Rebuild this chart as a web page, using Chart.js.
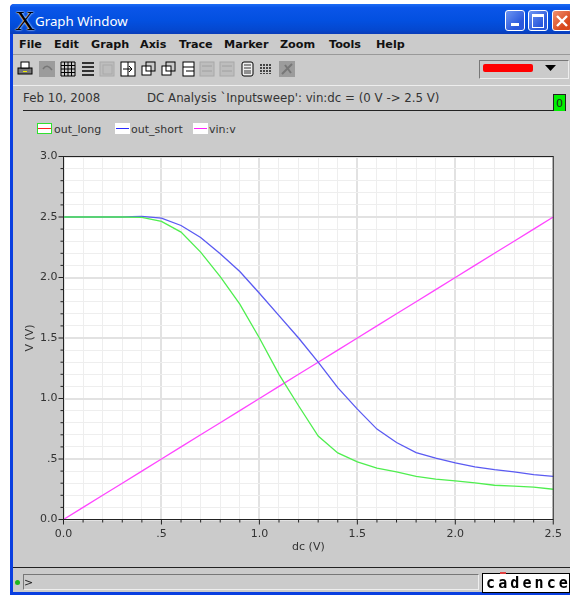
<!DOCTYPE html>
<html>
<head>
<meta charset="utf-8">
<title>Graph Window</title>
<script src="https://cdn.jsdelivr.net/npm/chart.js@4"></script>
<style>
  html, body { margin: 0; padding: 0; background: #fff; }
  body { width: 570px; height: 597px; overflow: hidden; position: relative; font-family: "DejaVu Sans", sans-serif; }
  .abs { position: absolute; white-space: nowrap; }
  #frame { left: 10px; top: 4px; width: 570px; height: 591px; background: #0a3fe0; border-radius: 4px 0 0 0; }
  #titlebar { left: 10px; top: 4px; width: 560px; height: 30px; background: linear-gradient(#1c6cf4 0%, #0a55e8 12%, #0350e0 55%, #0448d0 85%, #0a3cb8 100%); border-top-left-radius: 5px; }
  #panel { left: 13px; top: 34px; width: 557px; height: 558px; background: #cbcbcb; }
  #logoX { left: 15px; top: 5px; font: 28px "Liberation Serif", serif; color: #000; text-shadow: 0 0 2px #fff, 0 0 1px #fff; }
  #title { left: 35px; top: 12px; font: 13.3px "Noto Sans", sans-serif; color: #fff; }
  .winbtn { top: 10px; width: 18px; height: 19px; border: 1px solid #fff; border-radius: 3px; background: linear-gradient(135deg, #6f96f2, #2a58dc 70%); }
  .menu { top: 38px; font: bold 11.2px "DejaVu Sans", sans-serif; color: #111; }
  .info { font: 11.8px "DejaVu Sans", sans-serif; color: #333; }
  .legend { top: 123px; font: 11px "DejaVu Sans", sans-serif; color: #333; }
  .swatch { top: 123px; width: 15px; height: 11px; background: #fff; }
  .swatch i { position: absolute; left: 1px; right: 1px; top: 5px; height: 1px; }
  .rule { background: #222; height: 1px; }
  #chart { position: absolute; left: 0; top: 0; }
  #cadence { left: 482px; top: 573px; width: 88px; height: 20px; background: #fff; border: 1px solid #000; box-sizing: border-box; font: bold 15px "DejaVu Sans Mono", monospace; letter-spacing: 3.1px; color: #000; padding-left: 3px; line-height: 19px; }
</style>
</head>
<body>
<div class="abs" id="frame"></div>
<div class="abs" id="panel"></div>
<div class="abs" id="titlebar"></div>
<div class="abs" id="logoX">X</div>
<div class="abs" id="title">Graph Window</div>
<div class="abs winbtn" style="left:505px"><div class="abs" style="left:5px;top:12px;width:8px;height:3px;background:#fff"></div></div>
<div class="abs winbtn" style="left:528px"><div class="abs" style="left:3px;top:3px;width:10px;height:10px;border:1.5px solid #fff;border-top-width:3px"></div></div>
<div class="abs winbtn" style="left:552px;background:linear-gradient(135deg,#f09070,#d8481c 70%)"><svg class="abs" style="left:2px;top:3px" width="14" height="14"><path d="M2 2L12 12M12 2L2 12" stroke="#fff" stroke-width="2.4"/></svg></div>

<div id="menus"></div>
<div class="abs" style="left:13px;top:54px;width:557px;height:1px;background:#999"></div>
<div class="abs" style="left:13px;top:85px;width:557px;height:1px;background:#eee"></div>
<div id="tools"></div>
<div class="abs" style="left:479px;top:60px;width:88px;height:17px;border:1px solid #777;border-right-color:#eee;border-bottom-color:#eee"></div>
<div class="abs" style="left:483px;top:64px;width:50px;height:8px;background:#ff0000;border-radius:2px"></div>
<svg class="abs" style="left:545px;top:65px" width="12" height="7"><path d="M0 0H11L5.5 6Z" fill="#000"/></svg>

<div class="abs info" style="left:23px;top:91px">Feb 10, 2008</div>
<div class="abs info" style="left:147px;top:91px">DC Analysis `Inputsweep': vin:dc = (0 V -&gt; 2.5 V)</div>
<div class="abs rule" style="left:23px;top:110px;width:530px"></div>
<div class="abs" style="left:553px;top:94px;width:11px;height:16px;background:#00f000;border:1px solid #222;border-bottom:0;font:11px 'DejaVu Sans';text-align:center;line-height:17px;color:#222">0</div>

<div id="legend"></div>
<canvas id="chart" width="570" height="597"></canvas>

<div class="abs" style="left:13px;top:567px;width:557px;height:1px;background:#222"></div>
<div class="abs" style="left:15px;top:580px;width:5px;height:5px;background:#1fb81f;border-radius:3px"></div>
<div class="abs" style="left:23px;top:574px;width:454px;height:14px;border:1px solid #777;border-right-color:#eee;border-bottom-color:#eee;font:11px 'DejaVu Sans';line-height:15px;color:#222">&gt;</div>
<div class="abs" id="cadence">cadence</div>
<div class="abs" style="left:500px;top:572px;width:6px;height:2px;background:#e04040"></div>

<script>
const menuNames = ['File', 'Edit', 'Graph', 'Axis', 'Trace', 'Marker', 'Zoom', 'Tools', 'Help'];
const menuLefts = [19, 54, 91, 140, 179, 224, 280, 329, 376];

const dcSweep = [0.0, 0.1, 0.2, 0.3, 0.4, 0.5, 0.6, 0.7, 0.8, 0.9, 1.0, 1.1, 1.2, 1.3, 1.4, 1.5, 1.6, 1.7, 1.8, 1.9, 2.0, 2.1, 2.2, 2.3, 2.4, 2.5];
const outLong = [2.5, 2.5, 2.5, 2.5, 2.497, 2.463, 2.375, 2.21, 2.007, 1.78, 1.5, 1.2, 0.94, 0.69, 0.55, 0.476, 0.424, 0.393, 0.357, 0.333, 0.319, 0.302, 0.283, 0.275, 0.267, 0.25];
const outShort = [2.5, 2.5, 2.5, 2.5, 2.505, 2.49, 2.43, 2.33, 2.197, 2.05, 1.87, 1.685, 1.5, 1.3, 1.09, 0.912, 0.747, 0.636, 0.553, 0.507, 0.468, 0.435, 0.412, 0.393, 0.371, 0.357];
const vinV = [0.0, 0.1, 0.2, 0.3, 0.4, 0.5, 0.6, 0.7, 0.8, 0.9, 1.0, 1.1, 1.2, 1.3, 1.4, 1.5, 1.6, 1.7, 1.8, 1.9, 2.0, 2.1, 2.2, 2.3, 2.4, 2.5];

const xTickLabels = ['0.0', '.5', '1.0', '1.5', '2.0', '2.5'];
const yTickLabels = ['0.0', '.5', '1.0', '1.5', '2.0', '2.5', '3.0'];

const seriesNames = ['out_long', 'out_short', 'vin:v'];
const seriesColors = ['#4fee4f', '#5a5af2', '#ff45ff'];
const swatchColors = ['#ff2020', '#2a2aff', '#ff20ff'];

// menu bar
document.getElementById('menus').innerHTML = menuNames
  .map((name, i) => `<div class="abs menu" style="left:${menuLefts[i]}px">${name}</div>`)
  .join('');

// legend row
const swatchLefts = [37, 115, 193];
const legendLefts = [54, 131, 209];
document.getElementById('legend').innerHTML = seriesNames.map((name, i) => {
  const border = i === 0 ? 'outline:1px solid #30e030;outline-offset:-1px;' : '';
  return `<div class="abs swatch" style="left:${swatchLefts[i]}px;${border}"><i style="background:${swatchColors[i]}"></i></div>`
    + `<div class="abs legend" style="left:${legendLefts[i]}px">${name}</div>`;
}).join('');

// toolbar icons, rough copies of the originals
const gridIcon = (n) => {
  let d = '';
  for (let i = 0; i < n; i += 1) {
    const p = 1 + i * (14 / (n - 1));
    d += `M${p} 1V15M1 ${p}H15`;
  }
  return `<path d="${d}" stroke="#000" fill="none"/>`;
};
const rowsIcon = '<path d="M1 2H13M1 6H13M1 10H13M1 14H13" stroke="#000" stroke-width="1.6"/>';
const grayBox = '<rect x="0" y="0" width="16" height="16" fill="#9c9c9c"/>';
const lightBox = '<rect x="1" y="1" width="14" height="14" fill="#bdbdbd" stroke="#a8a8a8"/><path d="M3 5H13M3 10H13" stroke="#a0a0a0"/>';
const winIcon = '<rect x="1" y="5" width="9" height="9" fill="#fff" stroke="#000"/><rect x="5" y="1" width="9" height="9" fill="none" stroke="#000"/>';
const toolIcons = [
  [17, '<rect x="1" y="7" width="14" height="6" fill="#777" stroke="#000"/><rect x="4" y="1" width="8" height="6" fill="#fff" stroke="#000"/><rect x="6" y="10" width="4" height="1" fill="#ee0"/>'],
  [39, `${grayBox}<path d="M4 8Q8 2 13 9" stroke="#777" fill="none" stroke-width="1.5"/>`],
  [60, gridIcon(5)],
  [81, rowsIcon],
  [99, '<rect x="1" y="1" width="14" height="14" fill="#bdbdbd" stroke="#aaa"/><rect x="4" y="4" width="9" height="9" fill="none" stroke="#aaa"/>'],
  [120, '<rect x="1" y="1" width="14" height="14" fill="#fff" stroke="#000"/><path d="M8 1V15" stroke="#000"/><path d="M3 8H12M9 5L12 8L9 11" stroke="#000" fill="none"/>'],
  [141, winIcon],
  [161, winIcon],
  [181, '<rect x="2" y="1" width="11" height="14" fill="#fff" stroke="#000"/><path d="M2 6H13M5 10H13" stroke="#000"/>'],
  [199, lightBox],
  [219, lightBox],
  [240, '<rect x="2" y="1" width="11" height="14" fill="#eee" stroke="#000" rx="2"/><path d="M4 4H11M4 7H11M4 10H11M4 12H11" stroke="#333"/>'],
  [259, '<path d="M2 3V13M5 3V13M8 3V13M11 3V13" stroke="#222" stroke-width="1.6" stroke-dasharray="2 1"/>'],
  [279, `${grayBox}<path d="M3 13L13 3M6 4L12 12" stroke="#777" stroke-width="2"/>`],
];
document.getElementById('tools').innerHTML = toolIcons
  .map(([left, body]) => `<svg class="abs" style="left:${left}px;top:61px" width="16" height="16">${body}</svg>`)
  .join('');

const AXIS_COLOR = '#222';
const MAJOR_GRID = '#e2e2e2';
const MINOR_GRID = '#eeeeee';

// white plot background
const plotBackground = {
  id: 'plotBackground',
  beforeDraw(chart) {
    const { ctx, chartArea: area } = chart;
    ctx.save();
    ctx.fillStyle = '#fff';
    ctx.fillRect(area.left, area.top, area.right - area.left, area.bottom - area.top);
    ctx.restore();
  },
};

// plot frame and the short outer tick marks
const frameTicks = {
  id: 'frameTicks',
  afterDatasetsDraw(chart) {
    const { ctx, chartArea: area, scales } = chart;
    ctx.save();
    ctx.strokeStyle = AXIS_COLOR;
    ctx.lineWidth = 1;
    ctx.strokeRect(area.left, area.top, area.right - area.left, area.bottom - area.top);
    scales.x.ticks.forEach((tick, i) => {
      const px = scales.x.getPixelForTick(i);
      ctx.beginPath();
      ctx.moveTo(px, area.bottom);
      ctx.lineTo(px, area.bottom + (i % 5 === 0 ? 5 : 3));
      ctx.stroke();
    });
    scales.y.ticks.forEach((tick, i) => {
      const py = scales.y.getPixelForTick(i);
      ctx.beginPath();
      ctx.moveTo(area.left, py);
      ctx.lineTo(area.left - (i % 5 === 0 ? 5 : 3), py);
      ctx.stroke();
    });
    ctx.restore();
  },
};

const gridOptions = {
  drawTicks: false,
  color: (c) => (c.index % 5 === 0 ? MAJOR_GRID : MINOR_GRID),
  lineWidth: (c) => (c.index % 5 === 0 ? 2 : 1),
};

const toPoints = (values) => values.map((v, i) => ({ x: dcSweep[i], y: v }));
const allSeries = [outLong, outShort, vinV];

new Chart(document.getElementById('chart').getContext('2d'), {
  type: 'line',
  data: {
    datasets: seriesNames.map((name, i) => ({
      label: name,
      data: toPoints(allSeries[i]),
      borderColor: seriesColors[i],
      borderWidth: 1.3,
      pointRadius: 0,
      tension: 0,
      clip: false,
    })),
  },
  options: {
    responsive: false,
    animation: false,
    layout: { padding: { left: 24, top: 156.5, right: 15.5, bottom: 43 } },
    plugins: { legend: { display: false }, tooltip: { enabled: false } },
    scales: {
      x: {
        type: 'linear',
        min: 0,
        max: 2.5,
        grid: gridOptions,
        border: { display: false },
        afterFit(scale) { scale.height = 34.5; },
        ticks: {
          stepSize: 0.1,
          autoSkip: false,
          maxRotation: 0,
          padding: 8,
          color: '#333',
          font: { family: 'DejaVu Sans', size: 11 },
          callback: (value, index) => (index % 5 === 0 ? xTickLabels[index / 5] : ''),
        },
        title: { display: true, text: 'dc (V)', color: '#333', padding: { top: 0, bottom: 0 }, font: { family: 'DejaVu Sans', size: 11 } },
      },
      y: {
        min: 0,
        max: 3,
        grid: gridOptions,
        border: { display: false },
        afterFit(scale) { scale.width = 39.5; },
        ticks: {
          stepSize: 0.1,
          autoSkip: false,
          padding: 6,
          color: '#333',
          font: { family: 'DejaVu Sans', size: 11 },
          callback: (value, index) => (index % 5 === 0 ? yTickLabels[index / 5] : ''),
        },
        title: { display: true, text: 'V (V)', color: '#333', padding: { top: 0, bottom: 0 }, font: { family: 'DejaVu Sans', size: 11 } },
      },
    },
  },
  plugins: [plotBackground, frameTicks],
});
</script>
</body>
</html>
